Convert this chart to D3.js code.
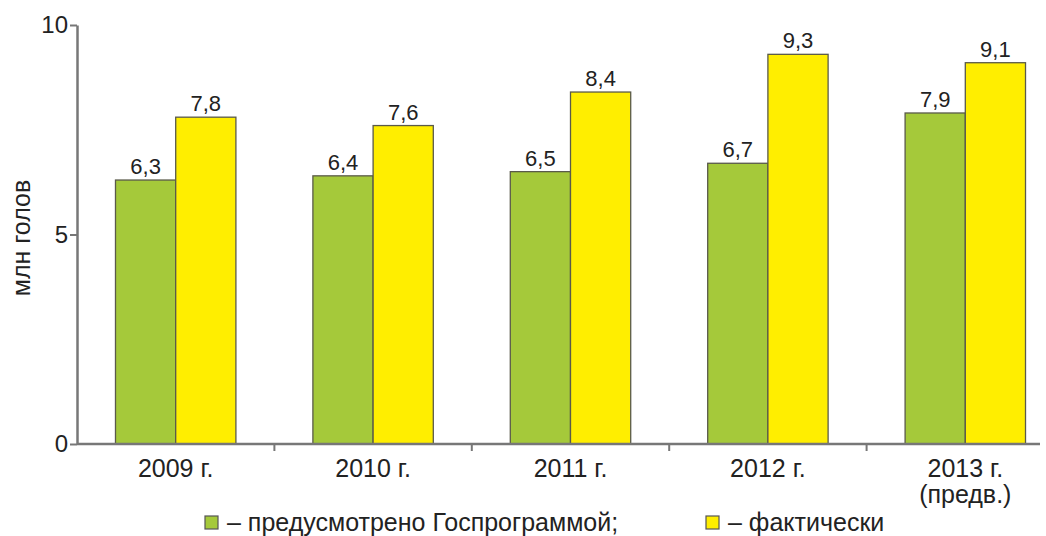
<!DOCTYPE html>
<html><head><meta charset="utf-8">
<script src="https://cdn.jsdelivr.net/npm/d3@7"></script>
<style>body{margin:0;background:#fff}svg{display:block}text{font-family:"Liberation Sans",Arial,sans-serif;fill:#222}</style>
</head><body><svg id="c" width="1046" height="536"></svg>
<script>
const categories = ["2009 г.", "2010 г.", "2011 г.", "2012 г.", "2013 г.|(предв.)"];
const planned = [6.3, 6.4, 6.5, 6.7, 7.9];
const actual = [7.8, 7.6, 8.4, 9.3, 9.1];
const seriesNames = ["– предусмотрено Госпрограммой;", "– фактически"];
const yTicks = [0, 5, 10];
const colors = ["#a5c93a", "#ffee00"];

const svg = d3.select("#c");
const x0 = 77, yBase = 444;
const x = d3.scaleBand().domain(categories).range([x0, x0 + 5 * 197.4]).paddingInner(0.39).paddingOuter(0.195);
const xs = d3.scaleBand().domain([0, 1]).range([0, x.bandwidth()]);
const y = d3.scaleLinear().domain([0, 10]).range([yBase, 25]);

// bars
const data = categories.map((c, i) => ({c, v: [planned[i], actual[i]]}));
const g = svg.append("g");
data.forEach(d => {
  d.v.forEach((v, k) => {
    g.append("rect").attr("x", x(d.c) + xs(k)).attr("y", y(v))
      .attr("width", xs.bandwidth()).attr("height", y(0) - y(v))
      .attr("fill", colors[k]).attr("stroke", "#5a5a4a").attr("stroke-width", 1.3);
    g.append("text").attr("x", x(d.c) + xs(k) + xs.bandwidth() / 2).attr("y", y(v) - 6)
      .attr("text-anchor", "middle").attr("font-size", 22).text(String(v).replace(".", ","));
  });
});

// y axis
const yAxis = d3.axisLeft(y).tickValues(yTicks).tickSize(7).tickSizeOuter(0);
const ya = svg.append("g").attr("transform", `translate(${x0},0)`).call(yAxis);
ya.select(".domain").attr("stroke", "#777").attr("stroke-width", 2.5);
ya.selectAll(".tick line").attr("stroke", "#777").attr("stroke-width", 2);
ya.selectAll(".tick text").attr("font-size", 24).attr("fill", "#222").attr("x", -9).style("font-family", '"Liberation Sans",Arial,sans-serif');

// x axis line and ticks between groups
const xa = svg.append("g");
xa.append("line").attr("x1", x0).attr("x2", 1040).attr("y1", yBase).attr("y2", yBase).attr("stroke", "#777").attr("stroke-width", 2.5);
const step = x.step();
categories.slice(1).forEach(c => {
  const tx = x(c) - x.paddingInner() * step / 2;
  xa.append("line").attr("x1", tx).attr("x2", tx).attr("y1", yBase).attr("y2", yBase + 7).attr("stroke", "#777").attr("stroke-width", 2);
});
categories.forEach(c => {
  const parts = c.split("|");
  parts.forEach((p, j) => {
    xa.append("text").attr("x", x(c) + x.bandwidth() / 2).attr("y", 477 + j * 26)
      .attr("text-anchor", "middle").attr("font-size", 25).text(p);
  });
});

// y label
svg.append("text").attr("transform", "translate(30,238) rotate(-90)").attr("text-anchor", "middle")
  .attr("font-size", 25).text("млн голов");

// legend
const legX = [205, 706];
seriesNames.forEach((n, k) => {
  svg.append("rect").attr("x", legX[k]).attr("y", 516).attr("width", 13).attr("height", 13)
    .attr("fill", colors[k]).attr("stroke", "#555").attr("stroke-width", 1.2);
  svg.append("text").attr("x", legX[k] + 22).attr("y", 531).attr("font-size", 25).text(n);
});
</script></body></html>
